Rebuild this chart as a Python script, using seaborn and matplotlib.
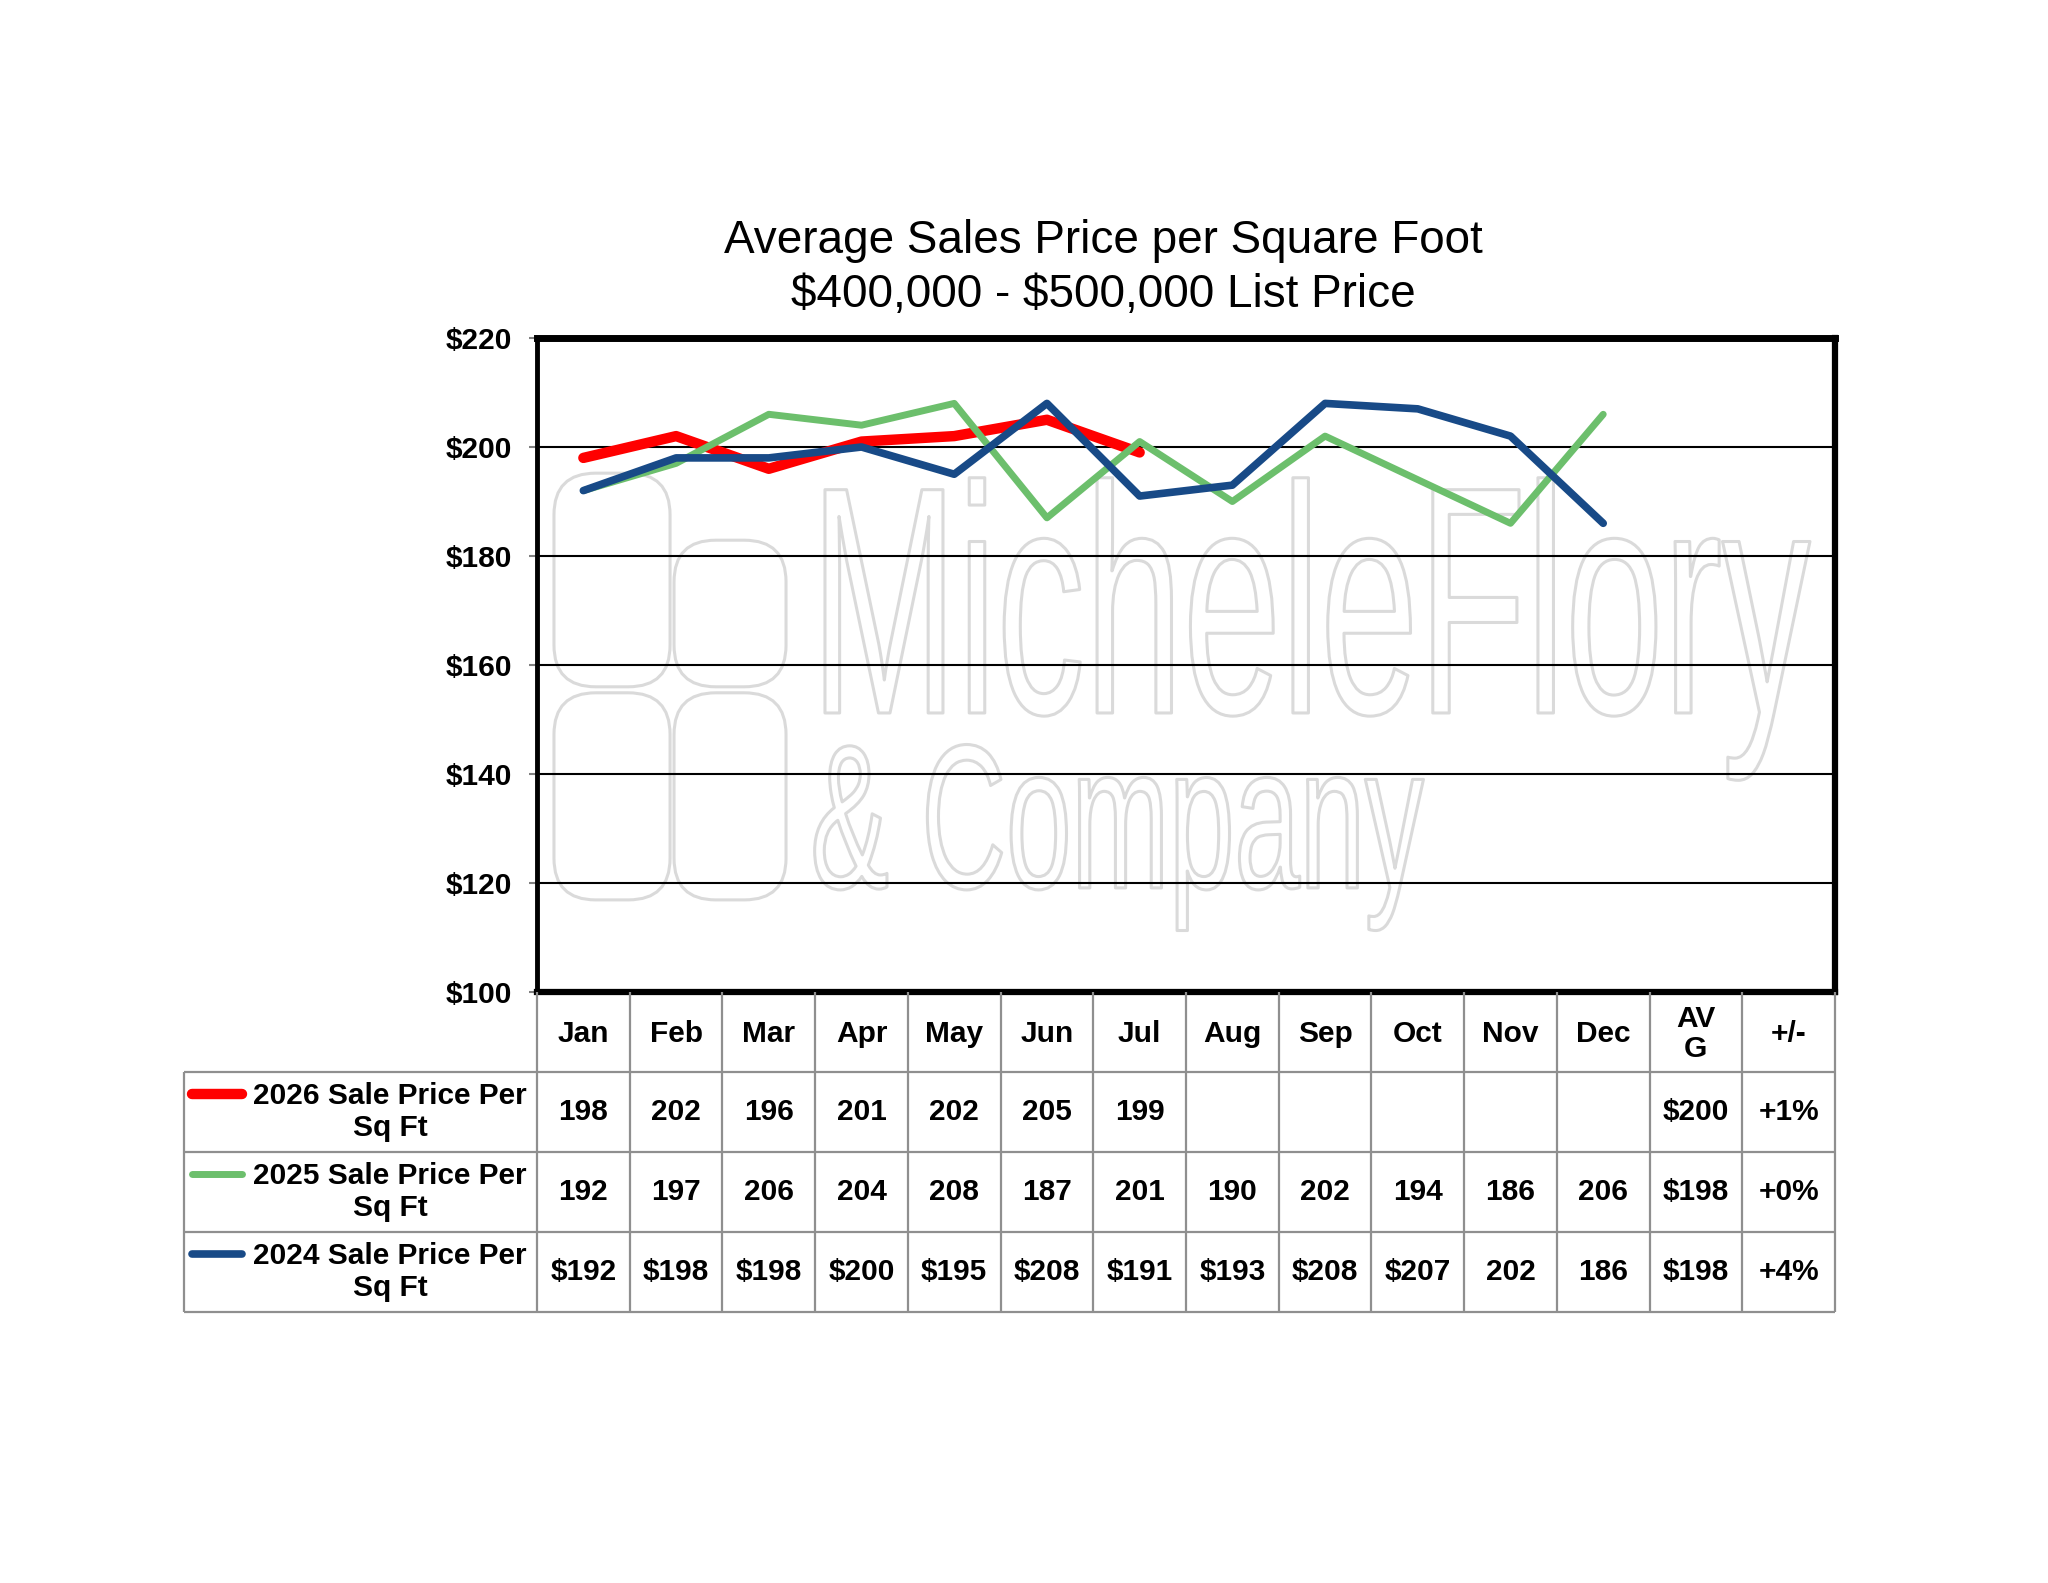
import numpy as np
import pandas as pd
import seaborn as sns
import matplotlib.pyplot as plt
from matplotlib.ticker import FuncFormatter
from matplotlib.patches import FancyBboxPatch
from matplotlib.patheffects import AbstractPathEffect
from matplotlib.transforms import Affine2D

# chart data
months = ['Jan', 'Feb', 'Mar', 'Apr', 'May', 'Jun', 'Jul', 'Aug', 'Sep', 'Oct', 'Nov', 'Dec']
price_2026 = [198, 202, 196, 201, 202, 205, 199, np.nan, np.nan, np.nan, np.nan, np.nan]
price_2025 = [192, 197, 206, 204, 208, 187, 201, 190, 202, 194, 186, 206]
price_2024 = [192, 198, 198, 200, 195, 208, 191, 193, 208, 207, 202, 186]
avg_col = ['$200', '$198', '$198']
change_col = ['+1%', '+0%', '+4%']
series_labels = ['2026 Sale Price Per\nSq Ft', '2025 Sale Price Per\nSq Ft', '2024 Sale Price Per\nSq Ft']
cell_fmt = [['{:.0f}'] * 12, ['{:.0f}'] * 12, ['${:.0f}'] * 10 + ['{:.0f}'] * 2]
extra_headers = ['AV\nG', '+/-']
yticks = [100, 120, 140, 160, 180, 200, 220]

colors = ['#FF0000', '#6CBF6C', '#184A87']
widths = [7.5, 5.0, 5.5]
wm_color = '#dadada'


class Stretch(AbstractPathEffect):
    """draw text glyphs stretched vertically (about the baseline), outline only"""
    def __init__(self, sy, edge, lw):
        super().__init__()
        self.sy = sy
        self.edge = edge
        self.lw = lw

    def draw_path(self, renderer, gc, tpath, affine, rgbFace=None):
        aff = Affine2D().scale(1.0, self.sy) + affine
        gc0 = renderer.new_gc()
        gc0.copy_properties(gc)
        gc0.set_foreground(self.edge)
        gc0.set_linewidth(self.lw)
        renderer.draw_path(gc0, tpath, aff, (1, 1, 1))
        gc0.restore()


sns.set_theme(style='white')
plt.rcParams['font.family'] = ['Liberation Sans', 'DejaVu Sans']
plt.rcParams['text.color'] = 'black'

df = pd.DataFrame({'x': np.arange(12), '2026': price_2026, '2025': price_2025, '2024': price_2024})

fig = plt.figure(figsize=(20.48, 15.83), dpi=100)
ax = fig.add_axes([0.26221, 0.37334, 0.63379, 0.41314])

for i, (col, c, lw) in enumerate(zip(['2026', '2025', '2024'], colors, widths)):
    sns.lineplot(data=df, x='x', y=col, ax=ax, color=c, linewidth=lw,
                 solid_capstyle='round', solid_joinstyle='round', zorder=3 + i)

# watermark (logo outlines + company name)
for (x0, x1, y0, y1) in [(-0.317, 0.935, 156.0, 195.2), (0.978, 2.186, 156.0, 182.9),
                         (-0.317, 0.935, 116.9, 154.9), (0.978, 2.186, 116.9, 154.9)]:
    ax.add_patch(FancyBboxPatch((x0, y0), x1 - x0, y1 - y0,
                                boxstyle='round,pad=0,rounding_size=0.45', mutation_aspect=17,
                                facecolor='none', edgecolor=wm_color, linewidth=2.2, zorder=0.2))
ax.text(2.45, 151.2, 'MicheleFlory', fontsize=127, color='white', zorder=0.3,
        ha='left', va='baseline', path_effects=[Stretch(1.84, wm_color, 2.2)])
ax.text(2.45, 119.1, '& Company', fontsize=84.5, color='white', zorder=0.3,
        ha='left', va='baseline', path_effects=[Stretch(1.75, wm_color, 2.2)])

ax.set_xlim(-0.5, 13.5)
ax.set_ylim(100, 220)
ax.set_xticks([])
ax.set_yticks(yticks)
ax.yaxis.set_major_formatter(FuncFormatter(lambda v, p: f'${v:.0f}'))
ax.tick_params(axis='y', left=True, length=6, width=1.5, color='#808080', pad=12,
               labelsize=21.5, labelcolor='black')
for lab in ax.get_yticklabels():
    lab.set_fontweight('bold')
ax.set_axisbelow(True)
ax.yaxis.grid(True, color='black', linewidth=1.5)
ax.xaxis.grid(False)
ax.set_xlabel('')
ax.set_ylabel('')
for side, lw in [('top', 5), ('right', 4.5), ('bottom', 4.5), ('left', 3.5)]:
    ax.spines[side].set_color('black')
    ax.spines[side].set_linewidth(lw)

# title
fig.text(0.5388, 0.8402, 'Average Sales Price per Square Foot', ha='center', va='baseline',
         fontsize=33, color='black')
fig.text(0.5388, 0.8061, r'\$400,000 - \$500,000 List Price', ha='center', va='baseline',
         fontsize=33, color='black')

# data table under the chart
tax = fig.add_axes([0.08984, 0.17119, 0.80615, 0.20215])
left_edge = -4.3076
tax.set_xlim(left_edge, 13.5)
tax.set_ylim(4, 0)
tax.axis('off')

grid_c = '#8f8f8f'
tax.vlines(np.arange(15) - 0.5, 0, 4, color=grid_c, linewidth=1.6, clip_on=False)
tax.vlines([left_edge], 1, 4, color=grid_c, linewidth=1.6, clip_on=False)
tax.hlines([1, 2, 3, 4], left_edge, 13.5, color=grid_c, linewidth=1.6, clip_on=False)

tkw = dict(ha='center', va='center', fontsize=21.5, fontweight='bold', color='black')
for i, h in enumerate(months + extra_headers):
    tax.text(i, 0.52, h, linespacing=1.1, **tkw)

rows = [price_2026, price_2025, price_2024]
for r, (vals, fmts) in enumerate(zip(rows, cell_fmt)):
    y = r + 1.5
    tax.plot([-4.22, -3.68], [y - 0.225, y - 0.225], color=colors[r], linewidth=widths[r],
             solid_capstyle='round', clip_on=False)
    tax.text(-2.086, y, series_labels[r], linespacing=1.2, multialignment='center', **tkw)
    for i, (v, f) in enumerate(zip(vals, fmts)):
        if not np.isnan(v):
            tax.text(i, y, f.format(v), **tkw)
    tax.text(12, y, avg_col[r], **tkw)
    tax.text(13, y, change_col[r], **tkw)

fig.savefig('out.png', dpi=100, facecolor='white')
